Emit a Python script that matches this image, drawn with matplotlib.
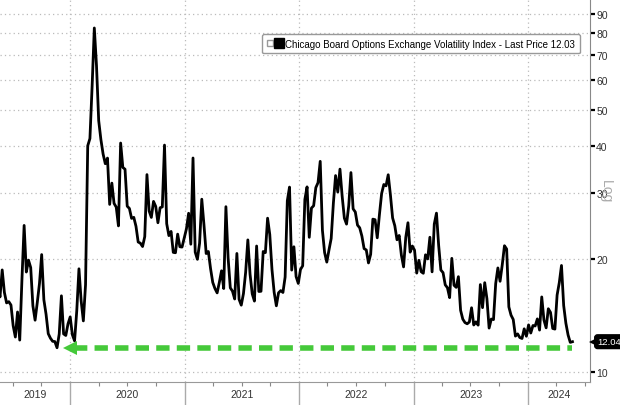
import matplotlib
matplotlib.use('Agg')
import matplotlib.pyplot as plt
import matplotlib.dates as mdates
from matplotlib.lines import Line2D
from matplotlib.legend_handler import HandlerTuple
import matplotlib.transforms as mtransforms
import pandas as pd

plt.rcParams['font.family'] = ['Liberation Sans', 'DejaVu Sans']

# weekly VIX values (week ending), May 2019 - May 2024
vix_2019 = [17.0, 15.85, 18.71, 16.3, 15.28, 15.4, 15.08, 13.28, 12.39, 14.45,
            12.16, 17.61, 24.59, 18.47, 19.87, 18.98, 15.0, 13.74, 15.32, 17.22,
            20.56, 15.58, 14.25, 12.65, 12.3, 12.07, 12.05, 11.6, 12.62, 15.96,
            12.63, 12.51, 13.43]
vix_2020 = [14.02, 12.56, 12.1, 14.56, 18.84, 15.47, 13.68, 17.08, 40.11, 41.94,
            57.83, 82.69, 65.54, 46.8, 41.67, 38.15, 35.93, 37.19, 27.98, 31.89,
            28.16, 27.51, 24.52, 40.79, 35.12, 34.73, 27.68, 27.29, 25.68, 25.84,
            24.46, 22.21, 22.05, 21.6, 22.96, 33.6, 26.87, 25.83, 28.5, 27.63,
            25.0, 27.41, 27.55, 40.28, 24.86, 23.1, 23.7, 20.84, 20.79, 23.31,
            21.57, 21.53, 22.75]
vix_2021 = [24.08, 26.5, 21.91, 37.21, 20.87, 19.97, 22.05, 28.89, 24.66, 20.69,
            20.95, 18.86, 17.33, 16.69, 16.25, 17.33, 18.61, 16.69, 27.59, 20.15,
            16.76, 16.42, 15.65, 20.7, 15.62, 15.07, 16.18, 18.45, 22.5, 18.24,
            16.15, 15.45, 21.67, 16.39, 16.41, 20.95, 20.81, 25.71, 23.25, 18.77,
            16.3, 15.01, 16.26, 16.48, 16.29, 17.91, 28.62, 31.12, 18.69, 21.57,
            17.96, 17.22]
vix_2022 = [18.76, 19.19, 28.85, 31.16, 22.86, 27.36, 27.75, 31.02, 31.98, 36.45,
            23.87, 20.81, 19.63, 21.16, 22.7, 28.21, 33.4, 30.19, 34.75, 29.43,
            25.72, 24.79, 27.75, 34.02, 27.23, 26.7, 24.64, 24.23, 23.03, 21.33,
            21.15, 19.53, 20.6, 25.56, 25.47, 22.79, 26.3, 29.92, 31.62, 31.36,
            33.57, 29.69, 25.75, 24.55, 22.52, 23.12, 20.5, 19.06, 22.83, 25.0,
            20.87, 21.67]
vix_2023 = [21.13, 18.35, 19.85, 18.51, 18.33, 20.53, 20.02, 22.87, 18.49, 24.8,
            26.52, 21.74, 18.7, 18.4, 17.07, 16.77, 15.78, 20.09, 17.03, 16.81,
            17.95, 14.6, 13.83, 13.54, 13.44, 13.59, 14.83, 13.34, 13.6, 13.33,
            17.1, 14.84, 17.3, 15.68, 13.09, 13.84, 13.79, 17.2, 18.94, 17.45,
            19.32, 21.71, 21.27, 14.91, 14.17, 13.8, 12.46, 12.63, 12.35, 12.28,
            13.03, 12.45]
vix_2024 = [13.35, 12.7, 13.3, 13.26, 13.85, 12.93, 15.85, 13.75, 13.11, 14.74,
            14.41, 13.06, 13.01, 16.03, 17.31, 19.23, 15.03, 13.49, 12.55, 11.99,
            12.04]

last_price = 12.04
legend_price = 12.03
arrow_level = 11.6
y_ticks = [10, 20, 30, 40, 50, 60, 70, 80, 90]
years = [2019, 2020, 2021, 2022, 2023, 2024]

values = vix_2019 + vix_2020 + vix_2021 + vix_2022 + vix_2023 + vix_2024
dates = pd.date_range(end='2024-05-22', periods=len(values), freq='7D')

x_start = pd.Timestamp('2019-05-22')
x_end = pd.Timestamp('2024-07-17')

fig = plt.figure(figsize=(6.2, 4.06), dpi=100)
ax = fig.add_axes([0, 23 / 406, 590 / 620, 383 / 406])

ax.plot(dates, values, color='black', lw=2.0, zorder=3)

# green dashed arrow at the pre-covid low
green = '#45c93a'
ax.plot([pd.Timestamp('2020-01-14'), dates[-1]], [arrow_level, arrow_level],
        color=green, lw=4, dashes=(2.4, 1.3), solid_capstyle='butt', zorder=4)
ax.plot([pd.Timestamp('2020-01-01')], [arrow_level], marker='<', color=green,
        markersize=10, markeredgewidth=0, zorder=4)

ax.set_yscale('log')
ax.set_ylim(9.4, 98.8)
ax.set_xlim(x_start, x_end)

ax.yaxis.tick_right()
ax.yaxis.set_minor_locator(matplotlib.ticker.NullLocator())
ax.set_yticks(y_ticks)
ax.set_yticklabels([str(v) for v in y_ticks])
ax.tick_params(axis='y', which='major', direction='out', length=3.5, width=1.6,
               color='black', labelsize=7.5, labelcolor='#333333', pad=1)

ax.xaxis.set_major_locator(mdates.YearLocator())
ax.xaxis.set_minor_locator(mdates.MonthLocator(bymonth=[4, 7, 10]))
ax.xaxis.set_major_formatter(matplotlib.ticker.NullFormatter())
ax.tick_params(axis='x', which='major', direction='out', length=17, width=1,
               color='#aaaaaa')
ax.tick_params(axis='x', which='minor', direction='out', length=3, width=0.8,
               color='#888888')

ax.grid(axis='both', which='major', color='#bbbbbb', linestyle=(0, (1, 2.5)),
        lw=0.9, zorder=0)

for s in ['top', 'left']:
    ax.spines[s].set_visible(False)
ax.spines['right'].set_color('#888888')
ax.spines['bottom'].set_color('#999999')

# year labels centred in visible part of each year
trans_x = mtransforms.blended_transform_factory(ax.transData, ax.transAxes)
for yr in years:
    a = max(pd.Timestamp(f'{yr}-01-01'), x_start)
    b = min(pd.Timestamp(f'{yr + 1}-01-01'), x_end)
    mid = a + (b - a) / 2
    ax.text(mid, -0.032, str(yr), transform=trans_x, ha='center', va='center',
            fontsize=7.5, color='#333333')

ax.text(1.027, 0.5, 'Log', transform=ax.transAxes, rotation=-90, ha='center',
        va='center', fontsize=10, color='#aaaaaa')

# last price tag on the right axis
trans_y = mtransforms.blended_transform_factory(ax.transAxes, ax.transData)
ax.plot([1.009], [last_price], transform=trans_y, marker='<', color='black',
        markersize=8, markeredgewidth=0, clip_on=False, zorder=6)
ax.text(1.012, last_price, f'{last_price:.2f}', transform=trans_y, ha='left',
        va='center', fontsize=6.8, color='white', clip_on=False, zorder=7,
        bbox=dict(boxstyle='round,pad=0.25,rounding_size=0.3', fc='black',
                  ec='black'))

grey_icon = Line2D([], [], marker='s', linestyle='none', markersize=4,
                   markerfacecolor='white', markeredgecolor='#999999')
black_sq = Line2D([], [], marker='s', linestyle='none', markersize=6.5,
                  color='black')
leg = ax.legend(handles=[(grey_icon, black_sq)],
                labels=[f'Chicago Board Options Exchange Volatility Index - Last Price {legend_price:.2f}'],
                handler_map={tuple: HandlerTuple(ndivide=None, pad=0.2)},
                loc='upper right', bbox_to_anchor=(0.9915, 0.922),
                fontsize=7, handlelength=1.6, handletextpad=0.3,
                borderpad=0.5, fancybox=True, framealpha=1)
leg.get_frame().set_edgecolor('#999999')
leg.get_frame().set_linewidth(1)

fig.savefig('out.png', dpi=100)
